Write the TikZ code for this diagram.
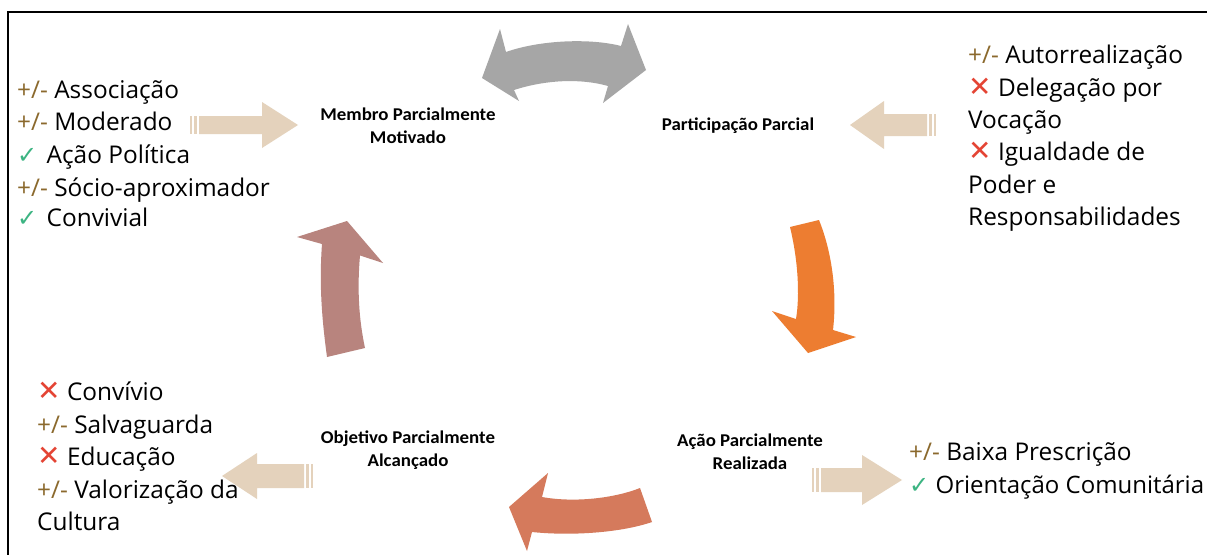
\documentclass[tikz,border=0pt]{standalone}
\usepackage{fontspec}
\setmainfont{Open Sans}
\newfontfamily\lblfont{Carlito}[FakeStretch=1.05]
\newfontfamily\symfont{DejaVu Sans}
\definecolor{pmcol}{RGB}{139,105,45}
\definecolor{ckcol}{RGB}{60,180,130}
\definecolor{xxcol}{RGB}{228,68,52}
\definecolor{beige}{RGB}{228,210,188}
\definecolor{grayar}{RGB}{166,166,166}
\definecolor{orangear}{RGB}{237,125,49}
\definecolor{mauvear}{RGB}{184,132,126}
\definecolor{rustar}{RGB}{213,122,92}
\newcommand\PMmark{\textcolor{pmcol}{+/-}}
\newcommand\CKsym{\textcolor{ckcol}{{\symfont\fontsize{24}{28}\selectfont ✓}}}
\newcommand\CKmark{\CKsym\hspace{3pt}}
\newcommand\XXmark{\textcolor{xxcol}{{\symfont\fontsize{28}{28}\selectfont ✕}}}
\begin{document}
\begin{tikzpicture}[x=1pt,y=-1pt,
  item/.style={anchor=base west, inner sep=0pt, font=\fontsize{24.4}{28}\selectfont},
  lbl/.style={align=center, inner sep=0pt, font=\lblfont\bfseries\fontsize{18}{23}\selectfont}]
\useasboundingbox (0,0) rectangle (1207,554);
\fill[white] (0,0) rectangle (1207,554);
% frame
\draw[line width=2.8pt] (1210,12) -- (8,12) -- (8,560);

% block arrows
\fill[grayar] (482,78) -- (500,29) -- (506,52) .. controls (540,40) and (590,38) .. (621,46) -- (628,24) -- (646,70) -- (603,103) -- (608,86) .. controls (580,78) and (545,80) .. (514,90) -- (519,101) -- cycle;
\fill[orangear] (790,227) .. controls (798,260) and (800,295) .. (796,319) -- (772,311) -- (808,353) -- (856,337) -- (833,330) .. controls (837,295) and (833,255) .. (819,220) -- cycle;
\fill[mauvear] (347,221) -- (383,263) -- (360,255.5) .. controls (357,290) and (359,320) .. (365,348) -- (327,357) .. controls (322,320) and (319,285) .. (322,244) -- (297,237) -- cycle;
\fill[rustar] (509,507) -- (548,473) -- (542,497) .. controls (575,503) and (615,498) .. (640,488) -- (652,522) .. controls (620,533) and (570,536) .. (532,532) -- (527,551) -- cycle;

% striped beige arrows
\fill[beige] (190,116) rectangle (192,134);
\fill[beige] (194,116) rectangle (197,134);
\fill[beige] (199,116) -- (262,116) -- (262,102) -- (298,125) -- (262,148) -- (262,134) -- (199,134) -- cycle;
\fill[beige] (936,114) rectangle (934,136);
\fill[beige] (932,114) rectangle (929,136);
\fill[beige] (927,114) -- (884,114) -- (884,101) -- (850,125) -- (884,149) -- (884,136) -- (927,136) -- cycle;
\fill[beige] (313,464) rectangle (311,488);
\fill[beige] (309,464) rectangle (306,488);
\fill[beige] (304,464) -- (257,464) -- (257,453) -- (222,476) -- (257,499) -- (257,488) -- (304,488) -- cycle;
\fill[beige] (812,468) rectangle (814,492);
\fill[beige] (816,468) rectangle (819,492);
\fill[beige] (821,468) -- (862,468) -- (862,455) -- (902,480) -- (862,505) -- (862,492) -- (821,492) -- cycle;

% stage labels
\node[lbl] (membro) at (408,126) {Membro Parcialmente\\Motivado};
\node[lbl] (partic) at (738,126) {Participação Parcial};
\node[lbl] (acao) at (750,452) {Ação Parcialmente\\Realizada};
\node[lbl] (objet) at (408,450) {Objetivo Parcialmente\\Alcançado};

% top-left list
\node[item] (tl1) at (17,98) {\PMmark{} Associação};
\node[item] (tl2) at (17,130) {\PMmark{} Moderado};
\node[item] (tl3) at (17,163) {\CKmark{} Ação Política};
\node[item] (tl4) at (17,196) {\PMmark{} Sócio-aproximador};
\node[item] (tl5) at (17,226) {\CKmark{} Convivial};

% top-right list
\node[item] (tr1) at (968,63) {\PMmark{} Autorrealização};
\node[item] (tr2) at (968,96) {\XXmark{} Delegação por};
\node[item] (tr3) at (968,128) {Vocação};
\node[item] (tr4) at (968,160) {\XXmark{} Igualdade de};
\node[item] (tr5) at (968,193) {Poder e};
\node[item] (tr6) at (968,225) {Responsabilidades};

% bottom-left list
\node[item] (bl1) at (37,400) {\XXmark{} Convívio};
\node[item] (bl2) at (37,433) {\PMmark{} Salvaguarda};
\node[item] (bl3) at (37,465) {\XXmark{} Educação};
\node[item] (bl4) at (37,498) {\PMmark{} Valorização da};
\node[item] (bl5) at (37,530) {Cultura};

% bottom-right list
\node[item] (br1) at (909,460) {\PMmark{} Baixa Prescrição};
\node[item,font=\fontsize{24}{28}\selectfont] (br2) at (909,493) {\CKsym{} Orientação Comunitária};
\end{tikzpicture}
\end{document}
